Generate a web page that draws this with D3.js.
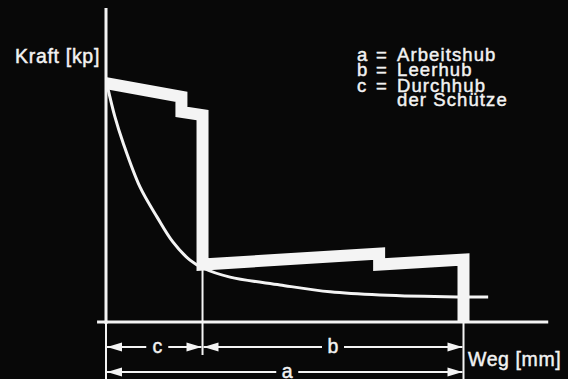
<!DOCTYPE html>
<html>
<head>
<meta charset="utf-8">
<script src="https://cdn.jsdelivr.net/npm/d3@7/dist/d3.min.js"></script>
<style>
  html, body { margin: 0; padding: 0; background: #080808; }
  svg { display: block; }
  text { font-family: "Liberation Sans", Arial, Helvetica, sans-serif; fill: #f2f2f2;
         stroke: #f2f2f2; stroke-width: 0.45; }
</style>
</head>
<body>
<script>
// Arbeitsdiagramm: Kraft über Weg

// Kraftverlauf (dicke Linie): Weg [mm-Einheiten], Kraft [kp-Einheiten]
const stufenWeg   = [0,    21.1, 21.1, 27,   27,   76.4, 76.4, 100,  100];
const stufenKraft = [76.1, 71.7, 66.9, 65.9, 18.3, 21.8, 18.3, 19.9, 0];

// Federkennlinie (dünne Kurve)
const kurveWeg   = [0.3,  2.5,  4.8,  9.5,  14.3, 18.7, 23.5, 27.1, 34.7, 48.7, 62.7, 76.6, 98.2, 106.9];
const kurveKraft = [75.5, 65.3, 57.0, 43.0, 33.4, 25.5, 19.7, 17.2, 14.3, 11.8, 9.6,  8.6,  8.0,  8.0];

// Hübe (Bemaßung)
const hubNamen  = ["c", "b", "a"];
const hubStart  = [0,   27,  0];
const hubEnde   = [27,  100, 100];
const hubZeile  = [0,   0,   1];

// Legende
const legendeKeys  = ["a", "b", "c", ""];
const legendeTexte = ["Arbeitshub", "Leerhub", "Durchhub", "der Schütze"];

const achseY = "Kraft [kp]";
const achseX = "Weg [mm]";

const W = 568, H = 379;
const svg = d3.select("body").append("svg").attr("width", W).attr("height", H);
svg.append("rect").attr("width", W).attr("height", H).attr("fill", "#080808");

const x = d3.scaleLinear().domain([0, 100]).range([106, 463.5]);
const y = d3.scaleLinear().domain([0, 100]).range([322, 8]);
const white = "#f4f4f4";

// Achsen
svg.append("line")
  .attr("x1", x(0)).attr("x2", x(0)).attr("y1", y(100)).attr("y2", y(0) + 2)
  .attr("stroke", white).attr("stroke-width", 3);
svg.append("line")
  .attr("x1", x(-2.5)).attr("x2", x(123.7)).attr("y1", y(0)).attr("y2", y(0))
  .attr("stroke", white).attr("stroke-width", 3);

// Hilfslinien für die Bemaßung
const rowY = [347, 372];
svg.append("line").attr("x1", x(0)).attr("x2", x(0)).attr("y1", y(0)).attr("y2", H)
  .attr("stroke", white).attr("stroke-width", 2);
svg.append("line").attr("x1", x(27)).attr("x2", x(27)).attr("y1", y(17)).attr("y2", rowY[0] + 8)
  .attr("stroke", white).attr("stroke-width", 2);
svg.append("line").attr("x1", x(100)).attr("x2", x(100)).attr("y1", y(0)).attr("y2", H)
  .attr("stroke", white).attr("stroke-width", 2);

// Federkennlinie
const kurve = d3.line().x(d => x(d[0])).y(d => y(d[1])).curve(d3.curveCatmullRom.alpha(0.5));
svg.append("path")
  .datum(kurveWeg.map((w, i) => [w, kurveKraft[i]]))
  .attr("d", kurve)
  .attr("fill", "none").attr("stroke", white).attr("stroke-width", 3);

// Kraftverlauf
const stufen = d3.line().x(d => x(d[0])).y(d => y(d[1]));
svg.append("path")
  .datum(stufenWeg.map((w, i) => [w, stufenKraft[i]]))
  .attr("d", stufen)
  .attr("fill", "none").attr("stroke", white).attr("stroke-width", 12)
  .attr("stroke-linejoin", "miter").attr("stroke-miterlimit", 10).attr("stroke-linecap", "butt");

// Bemaßungspfeile
function arrowHead(px, py, dir) {
  const L = 15, h = 4.5;
  svg.append("path")
    .attr("d", `M${px},${py}L${px - dir * L},${py - h}L${px - dir * L},${py + h}Z`)
    .attr("fill", white);
}
hubNamen.forEach((n, i) => {
  const x0 = x(hubStart[i]) + 1, x1 = x(hubEnde[i]) - 1;
  const yy = rowY[hubZeile[i]];
  const mid = (x0 + x1) / 2 + (n === "a" ? 2.5 : (n === "c" ? 3 : 0));
  const gap = 11;
  svg.append("line").attr("x1", x0).attr("x2", mid - gap).attr("y1", yy).attr("y2", yy)
    .attr("stroke", white).attr("stroke-width", 2);
  svg.append("line").attr("x1", mid + gap).attr("x2", x1).attr("y1", yy).attr("y2", yy)
    .attr("stroke", white).attr("stroke-width", 2);
  arrowHead(x0, yy, -1);
  arrowHead(x1, yy, 1);
  svg.append("text").attr("x", mid).attr("y", yy + 5.5)
    .attr("text-anchor", "middle").attr("font-size", 19.5).text(n);
});

// Achsenbeschriftungen
svg.append("text").attr("x", 15).attr("y", 63).attr("font-size", 19.5)
  .attr("letter-spacing", 0.7).text(achseY);
svg.append("text").attr("x", 468).attr("y", 366).attr("font-size", 19.5)
  .attr("letter-spacing", 0.6).text(achseX);

// Legende
const legY = [61, 76, 91.7, 105.7];
legendeTexte.forEach((t, i) => {
  if (legendeKeys[i]) {
    svg.append("text").attr("x", 357).attr("y", legY[i]).attr("font-size", 18.5).text(legendeKeys[i]);
    svg.append("text").attr("x", 381.5).attr("y", legY[i]).attr("font-size", 18.5)
      .attr("text-anchor", "middle").text("=");
  }
  svg.append("text").attr("x", 397).attr("y", legY[i]).attr("font-size", 18.5)
    .attr("letter-spacing", 1.1).text(t);
});
</script>
</body>
</html>
